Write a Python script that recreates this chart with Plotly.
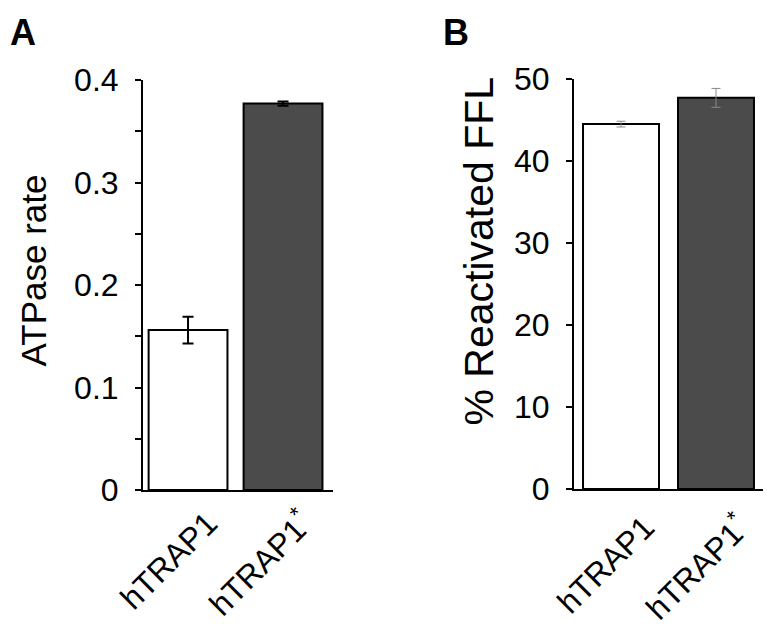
import plotly.graph_objects as go

categories = ["hTRAP1", "hTRAP1<sup>*</sup>"]
atpase_rate = [0.156, 0.377]
atpase_err = [0.013, 0.002]
reactivated_ffl = [44.5, 47.7]
reactivated_err = [0.35, 1.15]
bar_colors = ["#ffffff", "#4b4b4b"]

# the page places the figure 8 px in from the window corner
OFF = 8
W, H = 780 - OFF, 630 - OFF
FONT = "Liberation Sans, Arial, sans-serif"

def px(xp):
    return (xp - OFF) / W

def py(yp):
    return 1 - (yp - OFF) / H

fig = go.Figure()
fig.add_trace(go.Bar(
    x=categories, y=atpase_rate, width=0.83,
    marker=dict(color=bar_colors, line=dict(color="black", width=2)),
    error_y=dict(type="data", array=atpase_err, color="black", thickness=2, width=5.5),
    xaxis="x", yaxis="y", showlegend=False,
))
fig.add_trace(go.Bar(
    x=categories, y=reactivated_ffl, width=0.8,
    marker=dict(color=bar_colors, line=dict(color="black", width=2)),
    error_y=dict(type="data", array=reactivated_err, color="#8a8a8a", thickness=1, width=4.5),
    xaxis="x2", yaxis="y2", showlegend=False,
))

axis_common = dict(showline=True, linecolor="black", linewidth=2, showgrid=False,
                   zeroline=False, automargin=False,
                   tickfont=dict(family=FONT, size=32, color="black"))

fig.update_layout(
    width=W, height=H,
    margin=dict(l=0, r=0, t=0, b=0),
    paper_bgcolor="white", plot_bgcolor="white",
    xaxis=dict(domain=[px(143), px(333)], range=[-0.474, 1.526], anchor="y",
               ticks="", tickangle=-45, ticklabelshift=20, ticklabelstandoff=0,
               **axis_common),
    yaxis=dict(domain=[py(490), py(80)], range=[0, 0.4], anchor="x",
               ticks="outside", ticklen=6, tickwidth=2, tickcolor="black",
               dtick=0.1, tick0=0, ticklabelstandoff=10,
               minor=dict(dtick=0.05, ticks="outside", ticklen=6, tickwidth=2, tickcolor="black"),
               **axis_common),
    xaxis2=dict(domain=[px(574), px(763)], range=[-0.495, 1.495], anchor="y2",
                ticks="", tickangle=-45, ticklabelshift=24, ticklabelstandoff=5,
                **axis_common),
    yaxis2=dict(domain=[py(489), py(79)], range=[0, 50], anchor="x2",
                ticks="outside", ticklen=6, tickwidth=2, tickcolor="black",
                dtick=10, tick0=0, ticklabelstandoff=10,
                **axis_common),
)

fig.add_annotation(text="ATPase rate", x=px(32.5), y=py(271), xref="paper", yref="paper",
                   textangle=-90, showarrow=False, xanchor="center", yanchor="middle",
                   font=dict(family=FONT, size=35, color="black"))
fig.add_annotation(text="% Reactivated FFL", x=px(478.5), y=py(251), xref="paper", yref="paper",
                   textangle=-90, showarrow=False, xanchor="center", yanchor="middle",
                   font=dict(family=FONT, size=41, color="black"))
fig.add_annotation(text="<b>A</b>", x=px(23), y=py(32), xref="paper", yref="paper",
                   showarrow=False, xanchor="center", yanchor="middle", borderpad=0,
                   font=dict(family=FONT, size=36, color="black"))
fig.add_annotation(text="<b>B</b>", x=px(456), y=py(32), xref="paper", yref="paper",
                   showarrow=False, xanchor="center", yanchor="middle", borderpad=0,
                   font=dict(family=FONT, size=36, color="black"))

fig.write_html("out.html")
